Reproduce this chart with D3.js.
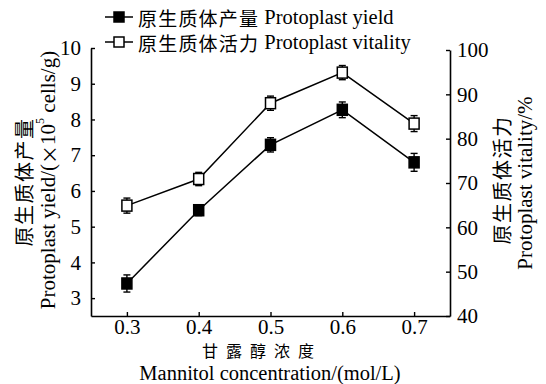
<!DOCTYPE html>
<html>
<head>
<meta charset="utf-8">
<script src="https://cdn.jsdelivr.net/npm/d3@7"></script>
<style>
  body { margin: 0; background: #fff; }
  svg text { font-family: "Liberation Serif", "Noto Sans CJK SC", serif; fill: #000; }
  .cjk { font-family: "Noto Sans CJK SC", sans-serif; }
</style>
</head>
<body>
<svg width="546" height="384"></svg>
<script>
// data
const mannitol = [0.3, 0.4, 0.5, 0.6, 0.7];
const yieldVals = [3.41, 5.46, 7.29, 8.27, 6.80];
const yieldErr = [0.24, 0.15, 0.20, 0.22, 0.25];
const vitalityVals = [64.9, 70.9, 88.0, 94.9, 83.4];
const vitalityErr = [1.7, 1.5, 1.6, 1.6, 1.8];
const leftTicks = [3, 4, 5, 6, 7, 8, 9, 10];
const rightTicks = [40, 50, 60, 70, 80, 90, 100];

const svg = d3.select("svg");

const x = d3.scaleLinear().domain([0.25, 0.75]).range([91, 450]);
const yL = d3.scaleLinear().domain([2.5, 10]).range([316, 48]);
const yR = d3.scaleLinear().domain([40, 100]).range([316, 50]);

// AXES
const styleAxis = g => {
  g.select(".domain").attr("stroke", "#000").attr("stroke-width", 1.6);
  g.selectAll(".tick line").attr("stroke", "#000").attr("stroke-width", 1.4);
  g.selectAll(".tick text").attr("font-size", 21).attr("fill", "#000")
    .attr("font-family", "Liberation Serif");
};

svg.append("g")
  .attr("transform", "translate(0,316)")
  .call(d3.axisBottom(x).tickValues(mannitol).tickFormat(d3.format(".1f"))
    .tickSizeInner(-4).tickSizeOuter(0).tickPadding(3))
  .call(styleAxis);

svg.append("g")
  .attr("transform", "translate(91,0)")
  .call(d3.axisLeft(yL).tickValues(leftTicks).tickFormat(d3.format("d"))
    .tickSizeInner(-4).tickSizeOuter(0).tickPadding(10))
  .call(styleAxis);

svg.append("g")
  .attr("transform", "translate(450,0)")
  .call(d3.axisRight(yR).tickValues(rightTicks).tickFormat(d3.format("d"))
    .tickSizeInner(-4).tickSizeOuter(0).tickPadding(7))
  .call(styleAxis);

// SERIES
const series = [
  { vals: yieldVals, err: yieldErr, y: yL, fill: "#000" },
  { vals: vitalityVals, err: vitalityErr, y: yR, fill: "#fff" }
];
const ms = 10;

series.forEach(s => {
  const pts = mannitol.map((m, i) => ({ m, v: s.vals[i], e: s.err[i] }));

  svg.append("path")
    .datum(pts)
    .attr("fill", "none")
    .attr("stroke", "#000")
    .attr("stroke-width", 1.5)
    .attr("d", d3.line().x(d => x(d.m)).y(d => s.y(d.v)));

  const g = svg.append("g").selectAll("g").data(pts).enter().append("g");

  g.append("line")
    .attr("x1", d => x(d.m)).attr("x2", d => x(d.m))
    .attr("y1", d => s.y(d.v - d.e)).attr("y2", d => s.y(d.v + d.e))
    .attr("stroke", "#000").attr("stroke-width", 1.4);
  [-1, 1].forEach(sign => {
    g.append("line")
      .attr("x1", d => x(d.m) - 3.5).attr("x2", d => x(d.m) + 3.5)
      .attr("y1", d => s.y(d.v + sign * d.e)).attr("y2", d => s.y(d.v + sign * d.e))
      .attr("stroke", "#000").attr("stroke-width", 1.4);
  });

  g.append("rect")
    .attr("x", d => x(d.m) - ms / 2)
    .attr("y", d => s.y(d.v) - ms / 2 - 0.5)
    .attr("width", ms).attr("height", ms + 1)
    .attr("fill", s.fill)
    .attr("stroke", "#000").attr("stroke-width", 1.5);
});

// LEGEND
const legendItems = [
  { cn: "原生质体产量", en: "Protoplast yield", fill: "#000", y: 17 },
  { cn: "原生质体活力", en: "Protoplast vitality", fill: "#fff", y: 42 }
];
const lg = svg.append("g").selectAll("g").data(legendItems).enter().append("g");
lg.append("line")
  .attr("x1", 105).attr("x2", 133)
  .attr("y1", d => d.y).attr("y2", d => d.y)
  .attr("stroke", "#000").attr("stroke-width", 1.5);
lg.append("rect")
  .attr("x", 114).attr("y", d => d.y - 5)
  .attr("width", 10).attr("height", 10)
  .attr("fill", d => d.fill).attr("stroke", "#000").attr("stroke-width", 1.5);
const lt = lg.append("text")
  .attr("x", 138).attr("y", d => d.y)
  .attr("dominant-baseline", "central")
  .attr("font-size", 20.5);
lt.append("tspan").attr("class", "cjk").attr("font-size", 19).attr("letter-spacing", 1.2).text(d => d.cn);
lt.append("tspan").text(d => " " + d.en);

// AXIS TITLES
svg.append("text")
  .attr("class", "cjk")
  .attr("x", 262).attr("y", 349.5)
  .attr("text-anchor", "middle").attr("dominant-baseline", "central")
  .attr("font-size", 16).attr("letter-spacing", 8)
  .text("甘露醇浓度");
svg.append("text")
  .attr("x", 270).attr("y", 372.5)
  .attr("text-anchor", "middle").attr("dominant-baseline", "central")
  .attr("font-size", 20.5)
  .text("Mannitol concentration/(mol/L)");

const rot = (cx, cy) => `translate(${cx},${cy}) rotate(-90)`;

svg.append("text")
  .attr("class", "cjk")
  .attr("transform", rot(23, 182))
  .attr("text-anchor", "middle").attr("dominant-baseline", "central")
  .attr("font-size", 20).attr("letter-spacing", 1.5)
  .text("原生质体产量");

const ly = svg.append("text")
  .attr("transform", rot(48, 180))
  .attr("text-anchor", "middle").attr("dominant-baseline", "central")
  .attr("font-size", 21);
ly.append("tspan").text("Protoplast yield/(");
ly.append("tspan").attr("class", "cjk").attr("font-size", 19).text("×");
ly.append("tspan").text("10");
ly.append("tspan").attr("font-size", 12).attr("dy", -8).text("5");
ly.append("tspan").attr("dy", 8).text(" cells/g)");

svg.append("text")
  .attr("class", "cjk")
  .attr("transform", rot(501, 180))
  .attr("text-anchor", "middle").attr("dominant-baseline", "central")
  .attr("font-size", 20).attr("letter-spacing", 1.5)
  .text("原生质体活力");

svg.append("text")
  .attr("transform", rot(525, 183))
  .attr("text-anchor", "middle").attr("dominant-baseline", "central")
  .attr("font-size", 21)
  .text("Protoplast vitality/%");
</script>
</body>
</html>
